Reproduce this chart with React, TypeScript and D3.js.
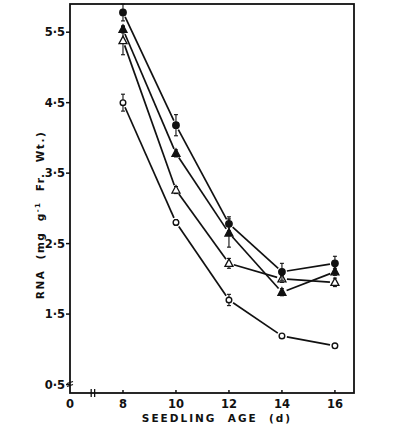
import React from "react";
import * as d3 from "d3";

const ages = [8, 10, 12, 14, 16];
const xTickLabels = ["8", "10", "12", "14", "16"];
const yTicks = [0.5, 1.5, 2.5, 3.5, 4.5, 5.5];
const yTickLabels = ["0·5", "1·5", "2·5", "3·5", "4·5", "5·5"];

const filledCircle = [5.78, 4.18, 2.78, 2.1, 2.22];
const filledCircleErr = [0.12, 0.15, 0.1, 0.12, 0.1];
const filledTriangle = [5.54, 3.78, 2.65, 1.81, 2.1];
const filledTriangleErr = [0.05, 0.05, 0.2, 0.05, 0.05];
const openTriangle = [5.38, 3.26, 2.22, 2.0, 1.95];
const openTriangleErr = [0.2, 0.05, 0.07, 0.05, 0.06];
const openCircle = [4.5, 2.8, 1.7, 1.19, 1.05];
const openCircleErr = [0.12, 0.04, 0.08, 0.03, 0.03];

type S = { vals: number[]; err: number[]; shape: "circle" | "triangle"; filled: boolean };
const series: S[] = [
  { vals: openCircle, err: openCircleErr, shape: "circle", filled: false },
  { vals: openTriangle, err: openTriangleErr, shape: "triangle", filled: false },
  { vals: filledTriangle, err: filledTriangleErr, shape: "triangle", filled: true },
  { vals: filledCircle, err: filledCircleErr, shape: "circle", filled: true },
];

const L = 70, R = 354, T = 4, B = 393;
const x = d3.scaleLinear().domain([6, 16.72]).range([L, R]);
const y = d3.scaleLinear().domain([0.38, 5.9]).range([B, T]);

const font = "'DejaVu Sans', Verdana, sans-serif";

export default function App() {
  const gap = 5;
  return (
    <svg width={408} height={439} style={{ position: "absolute", left: 0, top: 0, background: "#fff" }}>
      <rect x={L} y={T} width={R - L} height={B - T} fill="none" stroke="#111" strokeWidth={1.8} />
      {yTicks.map((t, i) => (
        <g key={i}>
          <line x1={L - 4} x2={L} y1={y(t)} y2={y(t)} stroke="#111" strokeWidth={1.5} />
          <text x={L - 5} y={y(t) + 4} textAnchor="end" fontSize={11.5} fontWeight="bold" fontFamily={font} fill="#111">
            {yTickLabels[i]}
          </text>
        </g>
      ))}
      <line x1={L - 3} x2={L + 3} y1={y(0.5) - 1} y2={y(0.5) - 3} stroke="#111" strokeWidth={1.2} />
      <line x1={L - 3} x2={L + 3} y1={y(0.5) + 2} y2={y(0.5)} stroke="#111" strokeWidth={1.2} />
      {ages.map((a, i) => (
        <g key={i}>
          <line x1={x(a)} x2={x(a)} y1={B} y2={B - 3} stroke="#111" strokeWidth={1.5} />
          <text x={x(a)} y={B + 15} textAnchor="middle" fontSize={11.5} fontWeight="bold" fontFamily={font} fill="#111">
            {xTickLabels[i]}
          </text>
        </g>
      ))}
      <text x={L} y={B + 15} textAnchor="middle" fontSize={11.5} fontWeight="bold" fontFamily={font} fill="#111">0</text>
      <line x1={x(6.8)} x2={x(6.8)} y1={B - 4} y2={B + 4} stroke="#111" strokeWidth={1.3} />
      <line x1={x(6.93)} x2={x(6.93)} y1={B - 4} y2={B + 4} stroke="#111" strokeWidth={1.3} />
      <text x={217} y={422} textAnchor="middle" fontSize={10.5} fontWeight="bold" fontFamily={font} fill="#111" letterSpacing={2}
        style={{ whiteSpace: "pre" }}>
        {"SEEDLING  AGE  (d)"}
      </text>
      <text
        transform={`translate(44,215) rotate(-90)`}
        textAnchor="middle"
        fontSize={10.5}
        fontWeight="bold"
        fontFamily={font}
        fill="#111"
        letterSpacing={1.5}
        style={{ whiteSpace: "pre" }}
      >
        {"RNA  (mg  g"}<tspan dy={-4} fontSize={7}>-1</tspan><tspan dy={4}>{"  Fr.  Wt.)"}</tspan>
      </text>
      {series.map((s, si) => {
        const pts = s.vals.map((v, i) => [x(ages[i]), y(v)] as [number, number]);
        return (
          <g key={si}>
            {pts.slice(1).map((p, i) => {
              const p0 = pts[i];
              const dx = p[0] - p0[0], dy = p[1] - p0[1];
              const len = Math.hypot(dx, dy);
              const ux = dx / len, uy = dy / len;
              return (
                <line key={i} x1={p0[0] + ux * gap} y1={p0[1] + uy * gap} x2={p[0] - ux * gap} y2={p[1] - uy * gap}
                  stroke="#111" strokeWidth={1.7} />
              );
            })}
            {pts.map((p, i) => {
              const e = s.err[i];
              const y1 = y(s.vals[i] + e), y2 = y(s.vals[i] - e);
              return (
                <g key={"e" + i}>
                  <line x1={p[0]} x2={p[0]} y1={y1} y2={y2} stroke="#111" strokeWidth={1.1} />
                  <line x1={p[0] - 2} x2={p[0] + 2} y1={y1} y2={y1} stroke="#111" strokeWidth={1.1} />
                  <line x1={p[0] - 2} x2={p[0] + 2} y1={y2} y2={y2} stroke="#111" strokeWidth={1.1} />
                </g>
              );
            })}
            {pts.map((p, i) =>
              s.shape === "circle" ? (
                <circle key={"m" + i} cx={p[0]} cy={p[1]} r={s.filled ? 3.2 : 2.8} fill={s.filled ? "#111" : "#fff"} stroke="#111" strokeWidth={1.4} />
              ) : (
                <path key={"m" + i}
                  d={`M${p[0]},${p[1] - 4.5}L${p[0] + 4},${p[1] + 3}L${p[0] - 4},${p[1] + 3}Z`}
                  fill={s.filled ? "#111" : "#fff"} stroke="#111" strokeWidth={1.3} />
              )
            )}
          </g>
        );
      })}
    </svg>
  );
}
